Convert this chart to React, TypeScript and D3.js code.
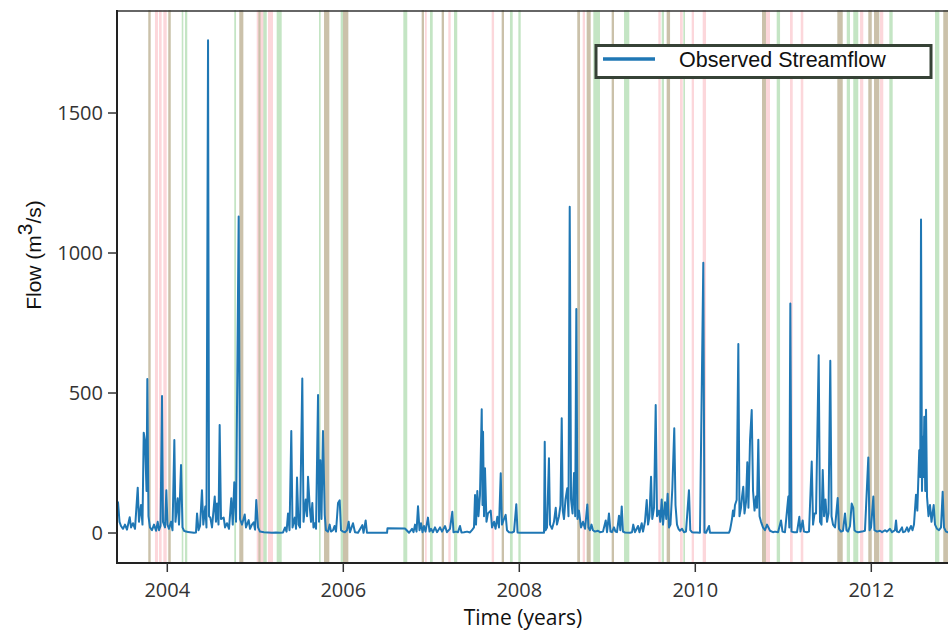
import React from "react";
import * as d3 from "d3";

// Observed streamflow (decimal year, m3/s)
const flowPoints: [number, number][] = [
  [2003.428, 60], [2003.44, 110], [2003.457, 40], [2003.474, 25], [2003.497, 15], [2003.519, 30],
  [2003.542, 12], [2003.573, 56], [2003.588, 20], [2003.61, 35], [2003.633, 15], [2003.664, 162],
  [2003.678, 40], [2003.701, 100], [2003.718, 30], [2003.732, 358], [2003.747, 330], [2003.764, 150],
  [2003.773, 550], [2003.786, 60], [2003.803, 20], [2003.826, 10], [2003.849, 30], [2003.872, 8],
  [2003.891, 40], [2003.906, 10], [2003.923, 25], [2003.94, 489], [2003.951, 40], [2003.974, 20],
  [2003.989, 153], [2004.002, 30], [2004.019, 15], [2004.042, 40], [2004.059, 10], [2004.08, 332],
  [2004.093, 40], [2004.118, 124], [2004.133, 30], [2004.156, 243], [2004.173, 20], [2004.19, 8],
  [2004.212, 5], [2004.235, 4], [2004.258, 3], [2004.281, 2], [2004.303, 1], [2004.326, 2],
  [2004.338, 70], [2004.355, 10], [2004.372, 25], [2004.394, 153], [2004.409, 30], [2004.432, 95],
  [2004.445, 20], [2004.463, 1760], [2004.474, 60], [2004.489, 55], [2004.508, 20], [2004.539, 130],
  [2004.553, 40], [2004.565, 105], [2004.582, 30], [2004.595, 386], [2004.61, 50], [2004.641, 55],
  [2004.656, 20], [2004.678, 35], [2004.701, 15], [2004.727, 124], [2004.744, 30], [2004.761, 181],
  [2004.781, 40], [2004.811, 1130], [2004.826, 50], [2004.849, 30], [2004.88, 66], [2004.894, 20],
  [2004.925, 46], [2004.94, 15], [2004.962, 30], [2004.982, 38], [2004.997, 12], [2005.011, 118],
  [2005.031, 20], [2005.053, 5], [2005.099, 3], [2005.144, 2], [2005.19, 1], [2005.235, 2],
  [2005.281, 1], [2005.315, 2], [2005.338, 20], [2005.355, 5], [2005.372, 70], [2005.389, 10],
  [2005.409, 364], [2005.423, 20], [2005.448, 55], [2005.463, 15], [2005.474, 198], [2005.491, 30],
  [2005.508, 20], [2005.534, 552], [2005.548, 40], [2005.573, 120], [2005.588, 60], [2005.599, 201],
  [2005.618, 95], [2005.633, 40], [2005.648, 107], [2005.661, 20], [2005.675, 35], [2005.69, 15],
  [2005.713, 493], [2005.724, 40], [2005.739, 260], [2005.752, 50], [2005.769, 364], [2005.789, 65],
  [2005.803, 10], [2005.826, 5], [2005.845, 30], [2005.86, 5], [2005.883, 10], [2005.9, 25],
  [2005.917, 5], [2005.94, 107], [2005.959, 117], [2005.974, 10], [2005.997, 5], [2006.019, 3],
  [2006.042, 10], [2006.061, 40], [2006.076, 3], [2006.11, 35], [2006.133, 3], [2006.167, 1],
  [2006.216, 28], [2006.23, 1], [2006.254, 45], [2006.269, 1], [2006.417, 0.5], [2006.497, 0.5],
  [2006.502, 17], [2006.701, 16], [2006.747, 1], [2006.781, 15], [2006.798, 3], [2006.815, 30],
  [2006.832, 5], [2006.849, 96], [2006.866, 10], [2006.883, 35], [2006.9, 3], [2006.917, 25],
  [2006.934, 5], [2006.962, 55], [2006.98, 5], [2006.997, 15], [2007.019, 3], [2007.042, 20],
  [2007.065, 3], [2007.099, 20], [2007.122, 5], [2007.156, 25], [2007.178, 3], [2007.212, 15],
  [2007.239, 76], [2007.252, 3], [2007.281, 5], [2007.303, 3], [2007.326, 25], [2007.343, 2],
  [2007.372, 3], [2007.406, 5], [2007.44, 2], [2007.462, 10], [2007.485, 20], [2007.497, 136],
  [2007.508, 30], [2007.523, 150], [2007.536, 60], [2007.553, 135], [2007.573, 442], [2007.582, 100],
  [2007.588, 362], [2007.599, 60], [2007.61, 231], [2007.627, 40], [2007.644, 70], [2007.675, 80],
  [2007.69, 20], [2007.713, 40], [2007.73, 15], [2007.75, 58], [2007.769, 20], [2007.789, 213],
  [2007.803, 30], [2007.826, 50], [2007.845, 65], [2007.86, 10], [2007.883, 3], [2007.917, 2],
  [2007.94, 5], [2007.966, 103], [2007.98, 2], [2008.008, 1], [2008.122, 0.5], [2008.281, 1],
  [2008.289, 326], [2008.298, 10], [2008.315, 20], [2008.337, 267], [2008.349, 30], [2008.372, 15],
  [2008.394, 40], [2008.414, 90], [2008.428, 30], [2008.451, 60], [2008.468, 100], [2008.482, 410],
  [2008.494, 80], [2008.508, 50], [2008.525, 120], [2008.545, 160], [2008.559, 60], [2008.573, 1165],
  [2008.588, 120], [2008.605, 70], [2008.622, 214], [2008.635, 60], [2008.648, 800], [2008.661, 50],
  [2008.678, 80], [2008.701, 20], [2008.724, 40], [2008.747, 15], [2008.773, 102], [2008.786, 20],
  [2008.803, 10], [2008.82, 30], [2008.837, 10], [2008.86, 5], [2008.894, 8], [2008.917, 3],
  [2008.951, 5], [2008.982, 45], [2008.997, 3], [2009.019, 70], [2009.036, 5], [2009.053, 3],
  [2009.076, 20], [2009.093, 5], [2009.11, 3], [2009.133, 62], [2009.148, 10], [2009.164, 95],
  [2009.178, 5], [2009.201, 2], [2009.258, 1], [2009.281, 3], [2009.295, 30], [2009.315, 3],
  [2009.349, 25], [2009.366, 3], [2009.391, 35], [2009.406, 5], [2009.428, 40], [2009.448, 118],
  [2009.463, 30], [2009.479, 60], [2009.497, 201], [2009.511, 50], [2009.531, 90], [2009.55, 457],
  [2009.565, 60], [2009.588, 80], [2009.602, 40], [2009.618, 120], [2009.633, 30], [2009.656, 110],
  [2009.67, 50], [2009.686, 140], [2009.701, 20], [2009.718, 30], [2009.739, 160], [2009.761, 374],
  [2009.775, 100], [2009.792, 30], [2009.809, 15], [2009.826, 8], [2009.849, 15], [2009.872, 3],
  [2009.894, 5], [2009.928, 153], [2009.943, 10], [2009.962, 3], [2009.985, 2], [2010.019, 2],
  [2010.053, 1], [2010.091, 965], [2010.104, 2], [2010.122, 1], [2010.156, 25], [2010.167, 1],
  [2010.281, 0.5], [2010.383, 1], [2010.394, 10], [2010.406, 30], [2010.417, 50], [2010.428, 80],
  [2010.44, 60], [2010.451, 100], [2010.47, 118], [2010.489, 675], [2010.502, 60], [2010.519, 90],
  [2010.531, 130], [2010.545, 165], [2010.559, 70], [2010.576, 110], [2010.591, 253], [2010.604, 90],
  [2010.622, 333], [2010.641, 439], [2010.656, 150], [2010.673, 80], [2010.69, 130], [2010.701, 90],
  [2010.716, 333], [2010.73, 60], [2010.747, 40], [2010.769, 20], [2010.792, 10], [2010.815, 30],
  [2010.849, 8], [2010.883, 3], [2010.906, 5], [2010.94, 3], [2010.974, 45], [2010.991, 5],
  [2011.019, 3], [2011.057, 130], [2011.068, 20], [2011.08, 820], [2011.093, 5], [2011.122, 3],
  [2011.156, 3], [2011.182, 58], [2011.195, 5], [2011.22, 45], [2011.235, 5], [2011.269, 3],
  [2011.292, 5], [2011.323, 255], [2011.338, 30], [2011.355, 70], [2011.372, 70], [2011.402, 635],
  [2011.417, 40], [2011.434, 30], [2011.448, 225], [2011.463, 60], [2011.479, 120], [2011.497, 40],
  [2011.514, 70], [2011.534, 615], [2011.548, 60], [2011.565, 30], [2011.588, 20], [2011.618, 125],
  [2011.633, 15], [2011.656, 5], [2011.678, 8], [2011.701, 70], [2011.718, 10], [2011.735, 5],
  [2011.758, 25], [2011.777, 105], [2011.795, 90], [2011.809, 10], [2011.826, 5], [2011.849, 3],
  [2011.894, 5], [2011.928, 8], [2011.966, 270], [2011.98, 10], [2011.997, 20], [2012.023, 130],
  [2012.036, 10], [2012.065, 5], [2012.099, 8], [2012.122, 3], [2012.156, 10], [2012.178, 5],
  [2012.212, 15], [2012.235, 3], [2012.269, 10], [2012.281, 45], [2012.292, 5], [2012.315, 3],
  [2012.349, 20], [2012.36, 3], [2012.383, 5], [2012.406, 20], [2012.423, 5], [2012.451, 25],
  [2012.468, 10], [2012.485, 30], [2012.508, 137], [2012.523, 80], [2012.545, 296], [2012.556, 200],
  [2012.565, 1120], [2012.576, 150], [2012.584, 345], [2012.593, 200], [2012.602, 415], [2012.613, 150],
  [2012.622, 440], [2012.633, 130], [2012.65, 60], [2012.667, 100], [2012.684, 40], [2012.709, 100],
  [2012.724, 30], [2012.747, 15], [2012.769, 10], [2012.792, 20], [2012.811, 147], [2012.826, 20],
  [2012.849, 5], [2012.871, 3], [2012.9, 4],
];

// Highlighted periods (decimal years)
const redBands: [number, number][] = [
  [2003.784, 2003.811], [2003.86, 2003.894], [2003.906, 2003.936], [2003.955, 2003.993],
  [2004.011, 2004.039], [2004.818, 2004.864], [2005.016, 2005.091], [2005.144, 2005.201],
  [2005.781, 2005.841], [2005.997, 2006.057], [2006.891, 2006.917], [2006.928, 2006.948],
  [2007.118, 2007.144], [2007.193, 2007.22], [2007.686, 2007.713], [2007.8, 2007.826],
  [2008.659, 2008.69], [2008.72, 2008.747], [2008.766, 2008.811], [2009.05, 2009.076],
  [2009.58, 2009.607], [2009.675, 2009.713], [2009.826, 2009.857], [2009.959, 2009.985],
  [2010.084, 2010.122], [2010.758, 2010.803], [2010.803, 2010.849], [2011.076, 2011.107],
  [2011.198, 2011.227], [2011.614, 2011.675], [2011.872, 2011.909], [2011.966, 2012.005],
  [2012.031, 2012.091], [2012.099, 2012.136], [2012.818, 2012.871],
];
const greenBands: [number, number][] = [
  [2003.784, 2003.811], [2004.011, 2004.039], [2004.164, 2004.182], [2004.201, 2004.227],
  [2004.761, 2004.781], [2004.818, 2004.864], [2005.035, 2005.06], [2005.091, 2005.13],
  [2005.243, 2005.3], [2005.724, 2005.743], [2005.781, 2005.841], [2005.97, 2006.057],
  [2006.682, 2006.727], [2006.891, 2006.917], [2006.985, 2007.016], [2007.118, 2007.144],
  [2007.258, 2007.295], [2007.8, 2007.826], [2007.894, 2007.925], [2007.989, 2008.016],
  [2008.659, 2008.69], [2008.766, 2008.811], [2008.841, 2008.917], [2009.05, 2009.076],
  [2009.19, 2009.25], [2009.618, 2009.644], [2009.675, 2009.713], [2009.864, 2009.883],
  [2010.758, 2010.803], [2010.925, 2010.963], [2011.614, 2011.675], [2011.721, 2011.758],
  [2011.795, 2011.852], [2011.966, 2012.005], [2012.031, 2012.091], [2012.205, 2012.243],
  [2012.724, 2012.773], [2012.818, 2012.871],
];

const xTicks = [2004, 2006, 2008, 2010, 2012];
const yTicks = [0, 500, 1000, 1500];
const seriesName = "Observed Streamflow";

const W = 948;
const H = 631;
const left = 117;
const right = 952;
const top = 10;
const bottom = 563;

export default function App() {
  const x = d3.scaleLinear().domain([2003.4284, 2003.4284 + (right - left) / 88]).range([left, right]);
  const y = d3.scaleLinear().domain([-107.1, 1867.9]).range([bottom, top]);
  const line = d3
    .line<[number, number]>()
    .x((d) => x(d[0]))
    .y((d) => y(d[1]));

  const tickFont = "'Open Sans', 'Noto Sans', sans-serif";
  const labelFont = "'Liberation Sans', Arial, sans-serif";

  return (
    <svg width={W} height={H} style={{ position: "absolute", left: 0, top: 0, background: "#fff" }}>
      <defs>
        <clipPath id="plot">
          <rect x={left} y={top} width={right - left} height={bottom - top} />
        </clipPath>
      </defs>
      <g clipPath="url(#plot)">
        {greenBands.map((b, i) => (
          <rect key={"g" + i} x={x(b[0])} y={top} width={Math.max(1, x(b[1]) - x(b[0]))} height={bottom - top}
            fill="#2ca02c" opacity={0.28} />
        ))}
        {redBands.map((b, i) => (
          <rect key={"r" + i} x={x(b[0])} y={top} width={Math.max(1, x(b[1]) - x(b[0]))} height={bottom - top}
            fill="#f0102a" opacity={0.17} />
        ))}
        <path d={line(flowPoints) || ""} fill="none" stroke="#1f77b4" strokeWidth={2} strokeLinejoin="round" />
      </g>
      {/* frame */}
      <line x1={left} x2={W} y1={top + 1} y2={top + 1} stroke="#333" strokeWidth={1.5} />
      <line x1={left} x2={left} y1={top} y2={bottom + 1} stroke="#222" strokeWidth={2} />
      <line x1={left - 1} x2={W} y1={bottom} y2={bottom} stroke="#222" strokeWidth={2} />
      {/* y axis */}
      {yTicks.map((t) => (
        <g key={"yt" + t}>
          <line x1={left - 9} x2={left} y1={y(t)} y2={y(t)} stroke="#333" strokeWidth={1.5} />
          <text x={left - 14} y={y(t)} dy="0.35em" textAnchor="end" fontFamily={tickFont} fontSize={20} fill="#333">
            {t}
          </text>
        </g>
      ))}
      {/* x axis */}
      {xTicks.map((t) => (
        <g key={"xt" + t}>
          <line x1={x(t)} x2={x(t)} y1={bottom} y2={bottom + 9} stroke="#333" strokeWidth={1.5} />
          <text x={x(t)} y={597} textAnchor="middle" fontFamily={tickFont} fontSize={20} fill="#333">
            {t}
          </text>
        </g>
      ))}
      <text x={523} y={625} textAnchor="middle" fontFamily={tickFont} fontSize={21} fill="#111">
        Time (years)
      </text>
      <text transform="translate(41,255) rotate(-90)" textAnchor="middle" fontFamily={labelFont} fontSize={21} fill="#111">
        Flow (m<tspan dy={-9}>3</tspan><tspan dy={9}>/s)</tspan>
      </text>
      {/* legend */}
      <rect x={596} y={45.5} width={335} height={32} fill="#fff" stroke="#364236" strokeWidth={3} />
      <line x1={603} x2={655} y1={59} y2={59} stroke="#1f77b4" strokeWidth={3.5} />
      <text x={679} y={67} fontFamily={labelFont} fontSize={21.5} fill="#111">
        {seriesName}
      </text>
    </svg>
  );
}
